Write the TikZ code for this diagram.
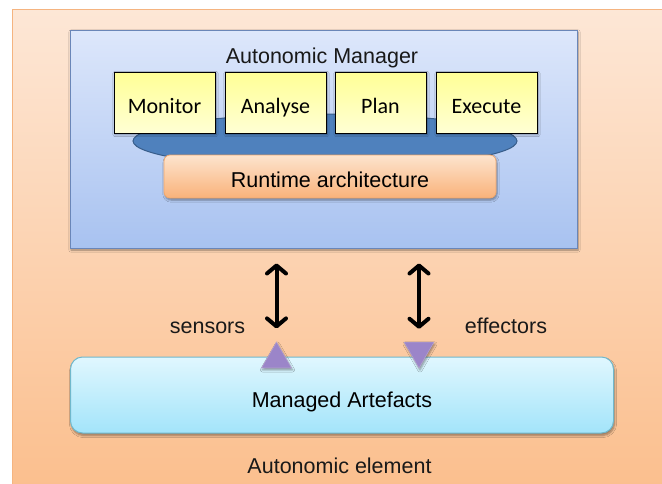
\documentclass[tikz,border=0pt]{standalone}
\usepackage{fontspec}
\setmainfont{Liberation Sans}
\newfontfamily\calfont{Carlito}
\usetikzlibrary{arrows.meta,shapes.geometric,shadows.blur}
\definecolor{ElemTop}{RGB}{253,231,214}
\definecolor{ElemBot}{RGB}{251,190,140}
\definecolor{ElemLine}{RGB}{245,180,128}
\definecolor{MgrTop}{RGB}{221,231,251}
\definecolor{MgrBot}{RGB}{168,194,240}
\definecolor{MgrLine}{RGB}{106,134,184}
\definecolor{StgTop}{RGB}{255,255,150}
\definecolor{StgBot}{RGB}{255,255,212}
\definecolor{BusFill}{RGB}{79,129,189}
\definecolor{BusLine}{RGB}{56,93,138}
\definecolor{RtTop}{RGB}{253,228,206}
\definecolor{RtBot}{RGB}{249,178,122}
\definecolor{RtLine}{RGB}{240,168,110}
\definecolor{ArtTop}{RGB}{224,247,254}
\definecolor{ArtBot}{RGB}{163,228,250}
\definecolor{ArtLine}{RGB}{112,184,204}
\definecolor{ProbeFill}{RGB}{155,133,201}
\definecolor{ProbeLine}{RGB}{128,100,170}
\newcommand{\bigtxt}{\fontsize{21.5}{26}\selectfont}
\tikzset{
  elem/.style={draw=ElemLine,line width=0.8pt,top color=ElemTop,bottom color=ElemBot,
               inner sep=0pt},
  mgrbox/.style={draw=MgrLine,line width=1pt,top color=MgrTop,bottom color=MgrBot,
                 inner sep=0pt,minimum width=507pt,minimum height=218pt,
                 blur shadow={shadow xshift=1pt,shadow yshift=-2pt,shadow blur steps=6}},
  stage/.style={draw=black,line width=0.9pt,top color=StgTop,bottom color=StgBot,
                inner sep=0pt,minimum height=61pt,text height=21pt,text depth=0pt,
                font=\calfont\fontsize{22}{26}\selectfont,
                blur shadow={shadow xshift=1pt,shadow yshift=-1.5pt,shadow blur steps=4}},
  busell/.style={ellipse,draw=BusLine,line width=1pt,fill=BusFill,inner sep=0pt,
                 minimum width=384pt,minimum height=54pt},
  rtbox/.style={rounded corners=6pt,draw=RtLine,line width=0.8pt,top color=RtTop,
                bottom color=RtBot,inner sep=0pt,minimum width=332pt,minimum height=43pt,
                text height=21pt,text depth=0pt,font=\bigtxt,
                blur shadow={shadow xshift=1pt,shadow yshift=-2pt,shadow blur steps=5}},
  artbox/.style={rounded corners=12pt,draw=ArtLine,line width=1pt,top color=ArtTop,
                 bottom color=ArtBot,inner sep=0pt,minimum width=543pt,minimum height=76pt,
                 text height=24pt,text depth=0pt,font=\bigtxt,
                 blur shadow={shadow xshift=1pt,shadow yshift=-2.5pt,shadow blur steps=6}},
  probe/.style={regular polygon,regular polygon sides=3,minimum size=34.6pt,inner sep=0pt,
                fill=ProbeFill,draw=ProbeLine!60,line width=0.6pt,
                blur shadow={shadow xshift=1pt,shadow yshift=-2pt,shadow blur steps=4}},
  lbl/.style={font=\bigtxt,text=black!90,anchor=base,inner sep=0pt},
  link/.style={{Straight Barb[length=8pt,width=19pt,round]}-{Straight Barb[length=8pt,width=19pt,round]},
               line width=4pt,black},
}

\begin{document}
\begin{tikzpicture}[x=1pt,y=-1pt]
  \path[use as bounding box] (0,0) rectangle (662,483);
  \clip (0,0) rectangle (662,483);

  % autonomic element
  \node[elem,anchor=north west,minimum width=670pt,minimum height=490pt] (elem) at (12,9) {};
  \node[lbl] (elemtxt) at (339.5,473) {Autonomic element};

  % manager
  \node[mgrbox] (mgr) at (323.5,139) {};
  \node[lbl] (mgrtxt) at (322,63) {Autonomic Manager};
  \node[busell] (bus) at (325,141) {};
  \node[stage,minimum width=101pt] (mon) at (164.5,102.5) {Monitor};
  \node[stage,minimum width=101pt] (ana) at (275.5,102.5) {Analyse};
  \node[stage,minimum width=91pt]  (pln) at (380.5,102.5) {Plan};
  \node[stage,minimum width=101pt] (exe) at (486.5,102.5) {Execute};
  \node[rtbox] (rt) at (330,176.5) {Runtime architecture};

  % managed artefacts
  \node[artbox] (art) at (342,395) {Managed Artefacts};
  \node[probe] (sens) at (276.5,359.3) {};
  \node[probe,shape border rotate=180] (eff) at (419,350.7) {};
  \node[lbl] (senstxt) at (207.5,333) {sensors};
  \node[lbl] (efftxt) at (506,333) {effectors};

  \draw[link] ([yshift=-15pt]mgr.south -| sens.north) -- ([yshift=13pt]sens.north);
  \draw[link] ([yshift=-15pt]mgr.south -| eff.north) -- ([yshift=13pt]eff.north);
\end{tikzpicture}
\end{document}
